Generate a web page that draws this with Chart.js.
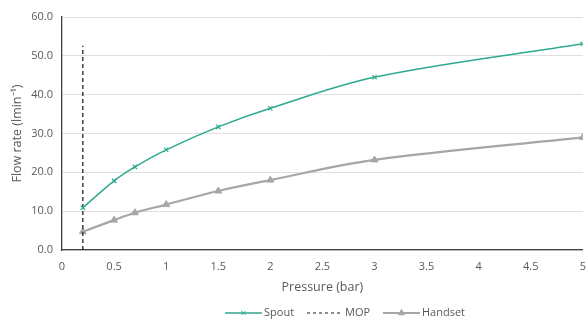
<!DOCTYPE html>
<html><head><meta charset="utf-8">
<script src="https://cdn.jsdelivr.net/npm/chart.js@4/dist/chart.umd.min.js"></script>
<style>html,body{margin:0;padding:0;background:#fff;}#wrap{width:588px;height:321px;}</style>
</head><body><div id="wrap"><canvas id="c" width="588" height="321"></canvas></div>
<script>
const pressure = [0.2, 0.5, 0.7, 1, 1.5, 2, 3, 5];
const spoutFlow = [10.9, 17.8, 21.4, 25.8, 31.7, 36.5, 44.5, 53.1];
const handsetFlow = [4.7, 7.7, 9.6, 11.7, 15.2, 18.0, 23.2, 29.0];
const mopPressure = [0.2, 0.2];
const mopFlow = [0, 52.6];
const seriesNames = ['Spout', 'MOP', 'Handset'];
const xTitle = 'Pressure (bar)';
const yTitle = 'Flow rate (lmin\u207B\u00B9)';

const teal = '#2ea88f', grey = '#a6a6a6', txt = '#595959';
const FONT = "'Open Sans', 'Liberation Sans', sans-serif";

function pts(xs, ys){ return xs.map((x,i)=>({x:x, y:ys[i]})); }

const legendPlugin = {
  id: 'customLegend',
  afterDraw(chart){
    const ctx = chart.ctx;
    const y = 313;
    ctx.save();
    ctx.font = "11px " + FONT;
    ctx.fillStyle = txt;
    ctx.textBaseline = 'middle';
    ctx.textAlign = 'left';
    const items = [
      {name: seriesNames[0], x0: 225, x1: 262, color: teal, w: 1.5, dash: [], marker: 'crossRot', r: 3},
      {name: seriesNames[1], x0: 307, x1: 343, color: '#222', w: 1.2, dash: [3,3], marker: null},
      {name: seriesNames[2], x0: 383, x1: 420, color: grey, w: 2, dash: [], marker: 'triangle', r: 3.5}
    ];
    items.forEach(it=>{
      ctx.save();
      ctx.strokeStyle = it.color; ctx.lineWidth = it.w; ctx.setLineDash(it.dash);
      ctx.beginPath(); ctx.moveTo(it.x0, y); ctx.lineTo(it.x1, y); ctx.stroke();
      ctx.restore();
      if (it.marker){
        ctx.save();
        ctx.strokeStyle = it.color; ctx.fillStyle = it.color;
        Chart.helpers.drawPoint(ctx, {pointStyle: it.marker, radius: it.r, borderWidth: 1.2, rotation: 0}, (it.x0+it.x1)/2, y);
        ctx.restore();
      }
      ctx.fillStyle = txt;
      ctx.fillText(it.name, it.x1 + 2, y);
    });
    ctx.restore();
  }
};

new Chart(document.getElementById('c'), {
  type: 'line',
  data: {
    datasets: [
      {label: seriesNames[0], data: pts(pressure, spoutFlow), borderColor: teal, backgroundColor: teal,
       borderWidth: 1.5, tension: 0.35, pointStyle: 'crossRot', pointRadius: 3, pointBorderWidth: 1.2, fill: false},
      {label: seriesNames[1], data: pts(mopPressure, mopFlow), borderColor: '#222', borderWidth: 1.3,
       borderDash: [4,3], pointRadius: 0, tension: 0, fill: false},
      {label: seriesNames[2], data: pts(pressure, handsetFlow), borderColor: grey, backgroundColor: grey,
       borderWidth: 2.2, tension: 0.35, pointStyle: 'triangle', pointRadius: 4, pointBorderWidth: 1, fill: false}
    ]
  },
  options: {
    responsive: false, animation: false, devicePixelRatio: 1,
    layout: {padding: {top: 17, right: 2, bottom: 24, left: 0}},
    plugins: {legend: {display: false}, tooltip: {enabled: false}},
    scales: {
      x: {
        type: 'linear', min: 0, max: 5,
        ticks: {stepSize: 0.5, color: txt, font: {family: FONT, size: 11}, padding: 10, maxRotation: 0,
                callback: v => String(v)},
        grid: {display: false, drawTicks: false},
        border: {display: true, color: '#404040', width: 1.3},
        title: {display: true, text: xTitle, color: txt, font: {family: FONT, size: 12.5}, padding: {top: 0, bottom: 2}},
        afterFit: s => { s.height = 47; s.paddingLeft = 0; s.paddingRight = 0; }
      },
      y: {
        min: 0, max: 60,
        ticks: {stepSize: 10, color: txt, font: {family: FONT, size: 11}, padding: 9,
                callback: v => Number(v).toFixed(1)},
        grid: {color: '#e0e0e0', lineWidth: 1, drawTicks: false},
        border: {display: true, color: '#404040', width: 1.3},
        title: {display: true, text: yTitle, color: txt, font: {family: FONT, size: 12.5}, padding: {top: 10, bottom: 0}},
        afterFit: s => { s.width = 62; s.paddingTop = 0; s.paddingBottom = 0; }
      }
    }
  },
  plugins: [legendPlugin]
});
</script></body></html>
